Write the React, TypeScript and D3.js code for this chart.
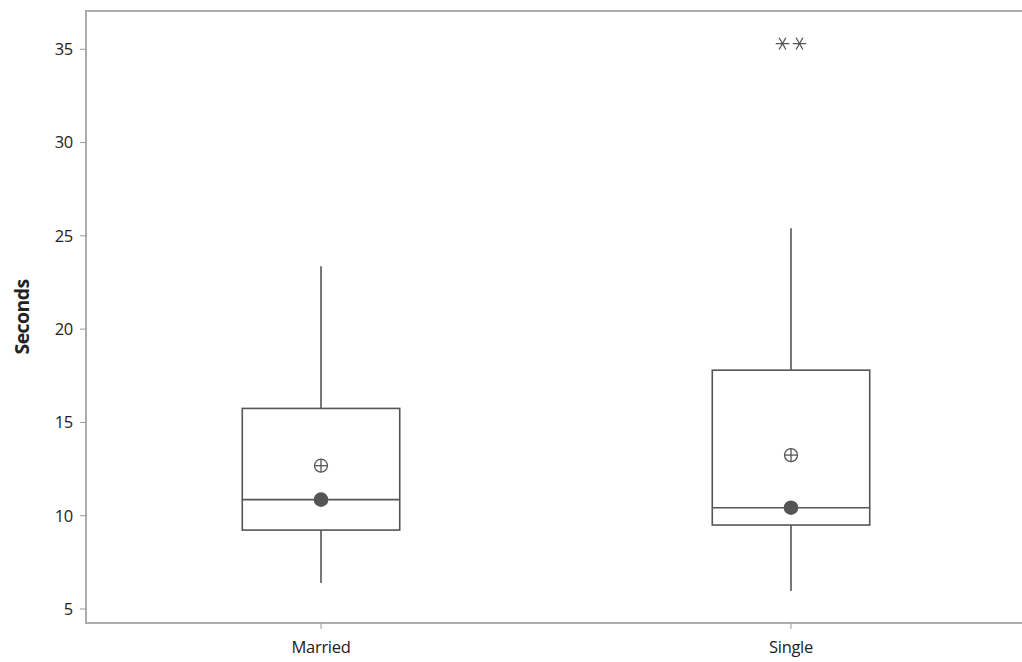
import React from "react";
import * as d3 from "d3";

const categories = ["Married", "Single"];
const q1 = [9.23, 9.5];
const medians = [10.86, 10.43];
const q3 = [15.75, 17.8];
const whiskerLow = [6.39, 5.96];
const whiskerHigh = [23.37, 25.41];
const means = [12.68, 13.25];
const outliers = [
  { cat: "Single", value: 35.3, offset: -1 },
  { cat: "Single", value: 35.3, offset: 1 },
];
const yTicks = [5, 10, 15, 20, 25, 30, 35];

const W = 1022;
const H = 662;
const left = 86;
const top = 11;
const bottom = 623;
const right = 1026;

export default function App() {
  const y = d3.scaleLinear().domain([4.25, 37.05]).range([bottom, top]);
  const x = d3.scalePoint<string>().domain(categories).range([left, right]).padding(0.5);
  const step = x.step();
  const boxW = step * 0.335;
  const stroke = "#555";
  const ast = d3.symbol().type(d3.symbolAsterisk).size(130)();
  const font = "'Open Sans', 'DejaVu Sans', sans-serif";

  return (
    <svg width={W} height={H} style={{ position: "absolute", left: 0, top: 0, background: "#fff" }}>
      {/* frame */}
      <rect x={left} y={top} width={right - left} height={bottom - top} fill="none" stroke="#adadad" strokeWidth={2} />
      {/* y ticks */}
      {yTicks.map((t) => (
        <g key={t}>
          <line x1={left - 6} x2={left} y1={y(t)} y2={y(t)} stroke="#999" strokeWidth={1} />
          <text x={left - 13} y={y(t)} dy="0.36em" textAnchor="end" fontSize={16.5} fontFamily={font} fill="#222" letterSpacing={-0.3}>
            {t}
          </text>
        </g>
      ))}
      {/* x ticks */}
      {categories.map((c) => (
        <g key={c}>
          <line x1={x(c)} x2={x(c)} y1={bottom} y2={bottom + 6} stroke="#999" strokeWidth={1} />
          <text x={x(c)} y={bottom + 24} dy="0.35em" textAnchor="middle" fontSize={16.5} fontFamily={font} fill="#222" letterSpacing={-0.3}>
            {c}
          </text>
        </g>
      ))}
      <text
        transform={`translate(22, ${(top + bottom) / 2}) rotate(-90)`}
        textAnchor="middle"
        dy="0.35em"
        fontSize={19.5}
        fontWeight="bold"
        fontFamily={font}
        fill="#222"
        letterSpacing={-0.6}
      >
        Seconds
      </text>
      {/* boxes */}
      {categories.map((c, i) => {
        const cx = x(c)!;
        return (
          <g key={c} stroke={stroke} strokeWidth={1.6} fill="none">
            <line x1={cx} x2={cx} y1={y(q3[i])} y2={y(whiskerHigh[i])} />
            <line x1={cx} x2={cx} y1={y(q1[i])} y2={y(whiskerLow[i])} />
            <rect x={cx - boxW / 2} y={y(q3[i])} width={boxW} height={y(q1[i]) - y(q3[i])} />
            <line x1={cx - boxW / 2} x2={cx + boxW / 2} y1={y(medians[i])} y2={y(medians[i])} />
            <circle cx={cx} cy={y(medians[i])} r={7.3} fill="#555" stroke="none" />
            <circle cx={cx} cy={y(means[i])} r={6.5} strokeWidth={1.3} />
            <line x1={cx - 6.5} x2={cx + 6.5} y1={y(means[i])} y2={y(means[i])} strokeWidth={1.3} />
            <line x1={cx} x2={cx} y1={y(means[i]) - 6.5} y2={y(means[i]) + 6.5} strokeWidth={1.3} />
          </g>
        );
      })}
      {/* outliers */}
      {outliers.map((o, i) => (
        <path
          key={i}
          d={ast!}
          transform={`translate(${x(o.cat)! + o.offset * 8.5}, ${y(o.value)}) rotate(90)`}
          fill="none"
          stroke="#555"
          strokeWidth={1.3}
        />
      ))}
    </svg>
  );
}
